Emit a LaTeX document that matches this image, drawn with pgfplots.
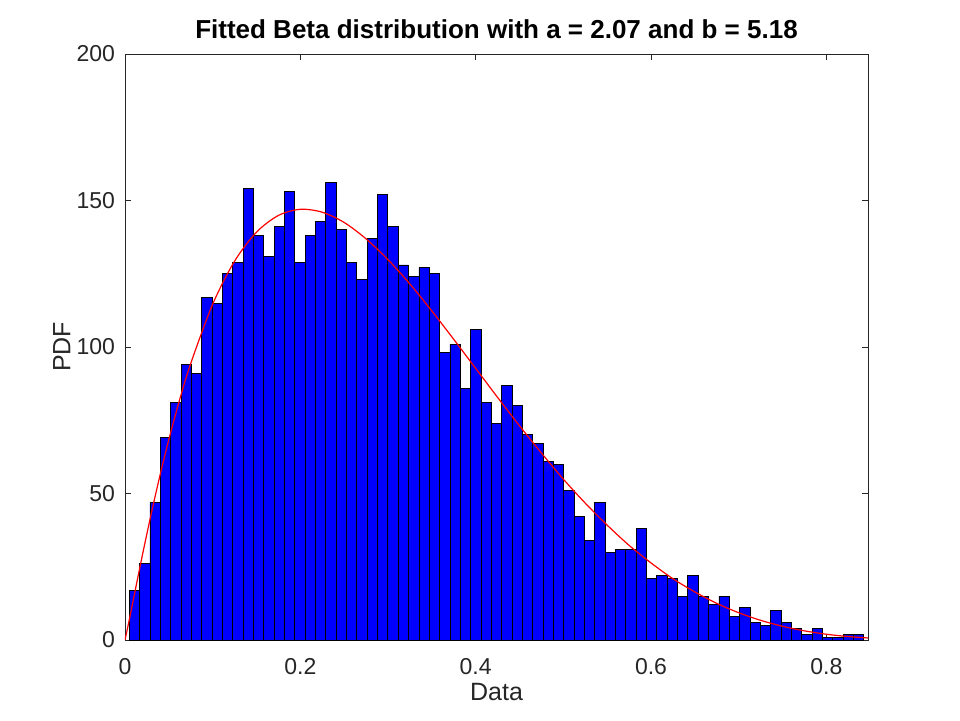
\documentclass[border=0pt]{standalone}
\usepackage{fontspec}
\setmainfont{Liberation Sans}
\usepackage{pgfplots}
\pgfplotsset{compat=1.18}
\definecolor{axgray}{RGB}{38,38,38}
\begin{document}
\begin{tikzpicture}
\begin{axis}[name=ax,
  scale only axis, width=743pt, height=586pt,
  xmin=0, xmax=0.8475, ymin=0, ymax=200,
  xtick={0,0.2,0.4,0.6,0.8}, ytick={0,50,100,150,200},
  tick align=inside, major tick length=6pt,
  axis line style={axgray, line width=0.8pt},
  tick style={axgray, line width=0.8pt},
  /pgf/number format/assume math mode=true,
  tick label style={font=\fontsize{23}{26}\selectfont, text=axgray},
  xticklabel style={yshift=-14.5pt},
  yticklabel style={xshift=-6.5pt},
  title={\bfseries Fitted Beta distribution with a = 2.07 and b = 5.18},
  title style={font=\fontsize{26}{30}\selectfont, at={(axis description cs:0.5,1.032)}, anchor=center},
  xlabel={Data}, ylabel={PDF},
  label style={font=\fontsize{25}{29}\selectfont, text=axgray},
  xlabel style={at={(axis description cs:0.5,-0.089)}, anchor=center},
  ylabel style={at={(axis description cs:-0.085,0.5)}, anchor=center},
]
\addplot[ybar interval, fill=blue, draw=black, line width=0.9pt] coordinates {
(0.0049,17) (0.0167,26) (0.0285,47) (0.0403,69) (0.0521,81) (0.0639,94)
(0.0757,91) (0.0875,117) (0.0993,115) (0.1111,125) (0.1229,129) (0.1347,154)
(0.1465,138) (0.1583,131) (0.1701,141) (0.1819,153) (0.1937,129) (0.2055,138)
(0.2173,143) (0.2291,156) (0.2409,140) (0.2527,129) (0.2645,123) (0.2763,137)
(0.2881,152) (0.2999,141) (0.3117,128) (0.3235,124) (0.3353,127) (0.3471,125)
(0.3589,98) (0.3707,101) (0.3825,86) (0.3943,106) (0.4061,81) (0.4179,74)
(0.4297,87) (0.4415,80) (0.4533,70) (0.4651,67) (0.4769,61) (0.4887,60)
(0.5005,51) (0.5123,42) (0.5241,34) (0.5359,47) (0.5477,30) (0.5595,31)
(0.5713,31) (0.5831,38) (0.5949,21) (0.6067,22) (0.6185,21) (0.6303,15)
(0.6421,22) (0.6539,15) (0.6657,12) (0.6775,15) (0.6893,8) (0.7011,11)
(0.7129,6) (0.7247,5) (0.7365,10) (0.7483,6) (0.7601,4) (0.7719,2)
(0.7837,4) (0.7955,1) (0.8073,1) (0.8191,2) (0.8309,2) (0.8427,2)
};
\addplot[red, line width=1.2pt, smooth, no marks] coordinates {
(0,0) (0.005,7.06) (0.01,14.5) (0.02,29.2) (0.03,43.2) (0.04,56.3)
(0.05,68.4) (0.0625,82.2) (0.075,94.4) (0.1,114.6) (0.125,129.3)
(0.15,139.2) (0.175,144.9) (0.2,147.0) (0.225,146.0) (0.25,142.5)
(0.275,136.9) (0.3,129.8) (0.325,121.5) (0.35,112.3) (0.375,102.6)
(0.4,92.7) (0.425,82.8) (0.45,73.1) (0.475,63.8) (0.5,54.9)
(0.525,46.7) (0.55,39.2) (0.575,32.3) (0.6,26.3) (0.625,20.9)
(0.65,16.4) (0.675,12.5) (0.7,9.31) (0.725,6.72) (0.75,4.68)
(0.775,3.12) (0.8,1.97) (0.825,1.17) (0.8475,0.70)
};
\end{axis}
\pgfresetboundingbox
\path ([xshift=-125pt,yshift=-80pt]ax.south west) rectangle ([xshift=92pt,yshift=54pt]ax.north east);
\end{tikzpicture}
\end{document}
